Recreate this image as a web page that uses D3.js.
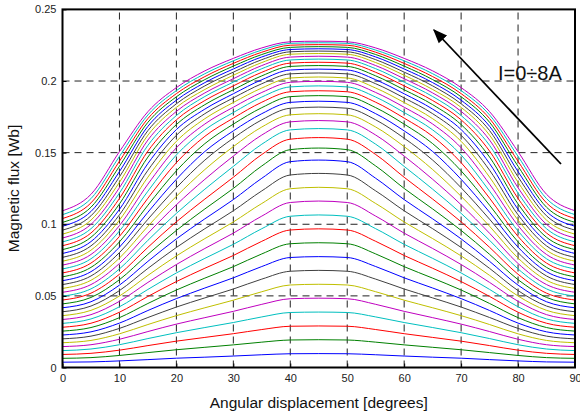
<!DOCTYPE html>
<html>
<head>
<meta charset="utf-8">
<script src="https://cdn.jsdelivr.net/npm/d3@7"></script>
<style>
body { margin: 0; background: #fff; }
text { font-family: "Liberation Sans", Arial, sans-serif; }
</style>
</head>
<body>
<div id="graph"></div>
<script>
var Width = 580, Height = 417;
var Margin = {top: 9.4, right: 5, bottom: 49.5, left: 62.5};

// currents I = 0.2 ... 8 A (one curve each)
var currents = [0.2,0.4,0.6,0.8,1.0,1.2,1.4,1.6,1.8,2.0,2.2,2.4,2.6,2.8,3.0,3.2,3.4,3.6,3.8,4.0,
                4.2,4.4,4.6,4.8,5.0,5.2,5.4,5.6,5.8,6.0,6.2,6.4,6.6,6.8,7.0,7.2,7.4,7.6,7.8,8.0];

// half profile angles (curves are symmetric about 45 deg)
var halfAngles = [0,5,10,15,20,25,30,35,40,45];

// flux [Wb] at each angle, one value per current
var flux0  = [0.0037,0.0064,0.0091,0.0118,0.0146,0.0173,0.0200,0.0227,0.0254,0.0281,0.0308,0.0335,0.0362,0.0389,0.0417,0.0444,0.0471,0.0498,0.0525,0.0552,0.0579,0.0606,0.0633,0.0660,0.0688,0.0715,0.0742,0.0769,0.0796,0.0823,0.0850,0.0877,0.0904,0.0931,0.0959,0.0986,0.1013,0.1040,0.1067,0.1094];
var flux5  = [0.0039,0.0069,0.0099,0.0129,0.0159,0.0189,0.0219,0.0249,0.0279,0.0309,0.0339,0.0369,0.0399,0.0429,0.0459,0.0489,0.0519,0.0549,0.0579,0.0609,0.0639,0.0669,0.0699,0.0729,0.0759,0.0789,0.0819,0.0849,0.0879,0.0909,0.0939,0.0969,0.0999,0.1029,0.1059,0.1089,0.1119,0.1149,0.1179,0.1209];
var flux10 = [0.0046,0.0084,0.0121,0.0159,0.0197,0.0235,0.0273,0.0310,0.0348,0.0386,0.0424,0.0462,0.0499,0.0537,0.0575,0.0613,0.0651,0.0688,0.0726,0.0764,0.0802,0.0840,0.0877,0.0915,0.0953,0.0991,0.1029,0.1066,0.1104,0.1142,0.1180,0.1218,0.1255,0.1293,0.1331,0.1368,0.1405,0.1440,0.1474,0.1507];
var flux15 = [0.0055,0.0104,0.0153,0.0202,0.0251,0.0300,0.0349,0.0398,0.0447,0.0496,0.0545,0.0594,0.0643,0.0692,0.0741,0.0790,0.0839,0.0888,0.0937,0.0986,0.1035,0.1084,0.1133,0.1182,0.1231,0.1280,0.1329,0.1377,0.1424,0.1469,0.1511,0.1551,0.1588,0.1622,0.1654,0.1684,0.1712,0.1738,0.1763,0.1786];
var flux20 = [0.0065,0.0124,0.0184,0.0243,0.0303,0.0362,0.0422,0.0481,0.0541,0.0600,0.0660,0.0719,0.0779,0.0838,0.0898,0.0957,0.1017,0.1076,0.1136,0.1195,0.1255,0.1314,0.1373,0.1430,0.1484,0.1534,0.1579,0.1621,0.1661,0.1696,0.1729,0.1759,0.1788,0.1816,0.1841,0.1866,0.1890,0.1912,0.1933,0.1954];
var flux25 = [0.0072,0.0141,0.0210,0.0279,0.0348,0.0417,0.0486,0.0555,0.0624,0.0693,0.0762,0.0831,0.0900,0.0969,0.1038,0.1107,0.1176,0.1245,0.1314,0.1382,0.1448,0.1508,0.1563,0.1614,0.1659,0.1700,0.1737,0.1772,0.1804,0.1835,0.1864,0.1892,0.1917,0.1941,0.1966,0.1989,0.2010,0.2031,0.2051,0.2071];
var flux30 = [0.0080,0.0158,0.0236,0.0314,0.0392,0.0470,0.0548,0.0626,0.0704,0.0782,0.0860,0.0938,0.1016,0.1094,0.1172,0.1250,0.1328,0.1404,0.1476,0.1542,0.1601,0.1652,0.1699,0.1741,0.1780,0.1817,0.1850,0.1882,0.1911,0.1939,0.1966,0.1992,0.2016,0.2040,0.2062,0.2084,0.2104,0.2123,0.2141,0.2158];
var flux35 = [0.0089,0.0177,0.0265,0.0353,0.0441,0.0529,0.0617,0.0705,0.0793,0.0881,0.0969,0.1057,0.1145,0.1233,0.1321,0.1407,0.1487,0.1559,0.1623,0.1679,0.1729,0.1772,0.1814,0.1852,0.1888,0.1920,0.1951,0.1981,0.2009,0.2036,0.2061,0.2086,0.2108,0.2129,0.2149,0.2168,0.2185,0.2201,0.2216,0.2231];
var flux40 = [0.0096,0.0192,0.0288,0.0384,0.0480,0.0576,0.0672,0.0768,0.0864,0.0960,0.1056,0.1152,0.1248,0.1344,0.1437,0.1521,0.1594,0.1659,0.1715,0.1764,0.1810,0.1851,0.1891,0.1925,0.1959,0.1991,0.2021,0.2050,0.2077,0.2102,0.2125,0.2147,0.2167,0.2187,0.2204,0.2220,0.2235,0.2250,0.2263,0.2274];
var flux45 = [0.0097,0.0194,0.0290,0.0387,0.0484,0.0581,0.0678,0.0774,0.0871,0.0968,0.1065,0.1162,0.1258,0.1355,0.1448,0.1532,0.1605,0.1668,0.1724,0.1772,0.1818,0.1859,0.1898,0.1932,0.1966,0.1998,0.2028,0.2056,0.2083,0.2108,0.2131,0.2153,0.2173,0.2192,0.2209,0.2225,0.2240,0.2254,0.2267,0.2278];

var xTicks = [0,10,20,30,40,50,60,70,80,90];
var yTicks = [0,0.05,0.1,0.15,0.2,0.25];
var yTickLabels = ["0","0.05","0.1","0.15","0.2","0.25"];

// matlab 'bgrcmyk' line colours
var lineColors = ["#0000ff","#008000","#ff0000","#00bfbf","#bf00bf","#bfbf00","#404040"];

var columns = [flux0,flux5,flux10,flux15,flux20,flux25,flux30,flux35,flux40,flux45];

var svg = d3.select("#graph").append("svg")
            .attr("width", Width)
            .attr("height", Height);

var x = d3.scaleLinear().domain([0,90]).range([Margin.left, Width - Margin.right]);
var y = d3.scaleLinear().domain([0,0.25]).range([Height - Margin.bottom, Margin.top]);

// grid
svg.append("g").selectAll("line").data(xTicks.slice(1,-1)).join("line")
   .attr("x1", d => x(d)).attr("x2", d => x(d))
   .attr("y1", y(0)).attr("y2", y(0.25))
   .style("stroke","#222").style("stroke-width",1).style("stroke-dasharray","7,5");
svg.append("g").selectAll("line").data(yTicks.slice(1,-1)).join("line")
   .attr("y1", d => y(d)).attr("y2", d => y(d))
   .attr("x1", x(0)).attr("x2", x(90))
   .style("stroke","#222").style("stroke-width",1).style("stroke-dasharray","7,5");

// curves
var line = d3.line().x(d => x(d[0])).y(d => y(d[1])).curve(d3.curveMonotoneX);
var curves = currents.map(function(I, i) {
  var pts = halfAngles.map((a, k) => [a, columns[k][i]]);
  for (var k = halfAngles.length - 2; k >= 0; k--) pts.push([90 - halfAngles[k], columns[k][i]]);
  return pts;
});
svg.append("g").selectAll("path").data(curves).join("path")
   .attr("d", line)
   .style("fill","none")
   .style("stroke", (d, i) => lineColors[i % 7])
   .style("stroke-width", 1);

// axes
var xAxis = d3.axisBottom(x).tickValues(xTicks).tickSizeInner(-4).tickSizeOuter(0).tickPadding(7);
var yAxis = d3.axisLeft(y).tickValues(yTicks).tickFormat((d, i) => yTickLabels[i]).tickSizeInner(-4).tickSizeOuter(0).tickPadding(6);
var gx = svg.append("g").attr("transform", `translate(0,${y(0)})`).call(xAxis);
var gy = svg.append("g").attr("transform", `translate(${x(0)},0)`).call(yAxis);
[gx, gy].forEach(function(g) {
  g.select(".domain").remove();
  g.selectAll("line").style("stroke","#000");
  g.selectAll("text").style("font-size","11px").style("fill","#222");
});

svg.append("rect")
   .attr("x", x(0)).attr("y", y(0.25))
   .attr("width", x(90) - x(0)).attr("height", y(0) - y(0.25))
   .style("fill","none").style("stroke","#000").style("stroke-width",2);

// labels
svg.append("text")
   .attr("x", (x(0) + x(90)) / 2).attr("y", 408)
   .attr("text-anchor","middle")
   .style("font-size","15.5px").style("fill","#111")
   .text("Angular displacement [degrees]");
svg.append("text")
   .attr("transform", `translate(19,${(y(0) + y(0.25)) / 2}) rotate(-90)`)
   .attr("text-anchor","middle")
   .style("font-size","15.5px").style("fill","#111")
   .text("Magnetic flux [Wb]");

// arrow annotation
svg.append("defs").append("marker")
   .attr("id","head").attr("viewBox","0 0 10 10")
   .attr("refX",9).attr("refY",5)
   .attr("markerWidth",8).attr("markerHeight",8)
   .attr("orient","auto")
   .append("path").attr("d","M0,1 L10,5 L0,9 Z").style("fill","#000");
svg.append("line")
   .attr("x1", 561).attr("y1", 164)
   .attr("x2", 434).attr("y2", 30)
   .style("stroke","#000").style("stroke-width",1.8)
   .attr("marker-end","url(#head)");
svg.append("text")
   .attr("x", 498).attr("y", 80)
   .style("font-size","20px").style("fill","#111")
   .text("I=0÷8A");
</script>
</body>
</html>
